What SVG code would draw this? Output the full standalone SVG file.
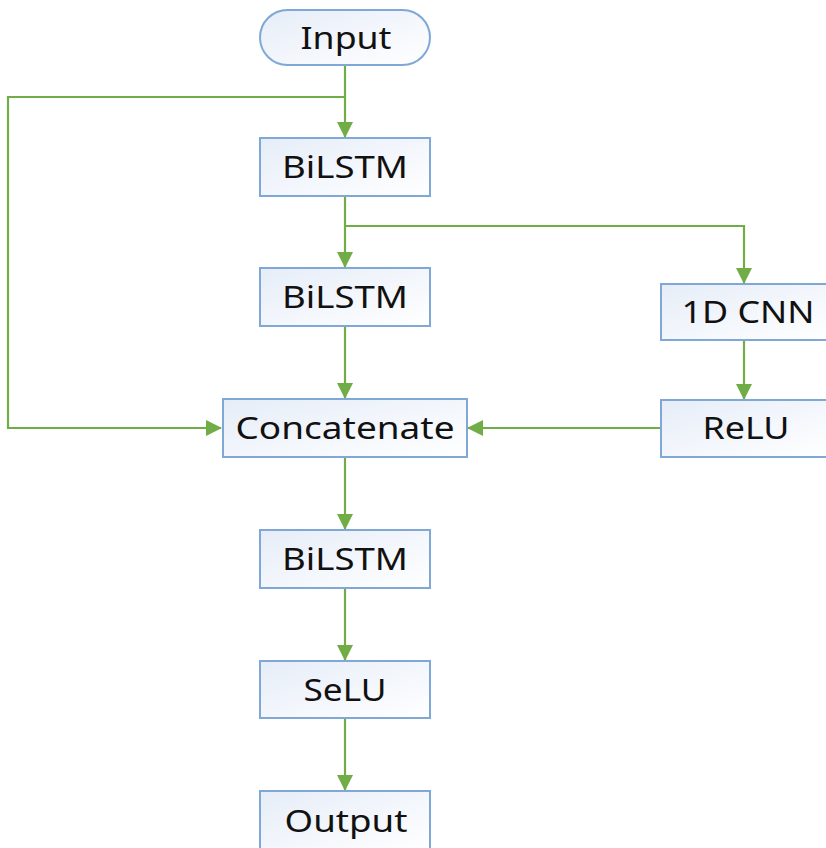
<svg xmlns="http://www.w3.org/2000/svg" width="826" height="848" viewBox="0 0 826 848">
<defs>
<linearGradient id="g" x1="0" y1="0" x2="1" y2="1">
<stop offset="0" stop-color="#e6edf8"/>
<stop offset="1" stop-color="#ffffff"/>
</linearGradient>
<marker id="ah" markerUnits="userSpaceOnUse" markerWidth="16" markerHeight="16" viewBox="0 0 16 16" refX="15" refY="8" orient="auto">
<path d="M0,0 L16,8 L0,16 Z" fill="#70ad47"/>
</marker>
<style>
.box{fill:url(#g);stroke:#7fa8d6;stroke-width:2}
.t{font-family:"Noto Sans","Open Sans","Liberation Sans",sans-serif;font-size:31px;fill:#111;text-anchor:middle;dominant-baseline:central}
.c{fill:none;stroke:#70ad47;stroke-width:2.2}
</style>
</defs>
<rect width="826" height="848" fill="#ffffff"/>
<g id="connectors">
<path class="c" d="M345,65 V137" marker-end="url(#ah)"/>
<path class="c" d="M345,97 H8 V428 H221" marker-end="url(#ah)"/>
<path class="c" d="M345,197 V267" marker-end="url(#ah)"/>
<path class="c" d="M345,226 H744 V283" marker-end="url(#ah)"/>
<path class="c" d="M345,327 V398" marker-end="url(#ah)"/>
<path class="c" d="M744,341 V399" marker-end="url(#ah)"/>
<path class="c" d="M660,428 H468" marker-end="url(#ah)"/>
<path class="c" d="M345,458 V529" marker-end="url(#ah)"/>
<path class="c" d="M345,589 V660" marker-end="url(#ah)"/>
<path class="c" d="M345,719 V790" marker-end="url(#ah)"/>
</g>
<g id="input">
<rect class="box" x="260" y="10" width="170" height="55" rx="27.5"/>
<text class="t" x="346" y="37" textLength="91" lengthAdjust="spacingAndGlyphs">Input</text>
</g>
<g id="bilstm1">
<rect class="box" x="260" y="138" width="170" height="58"/>
<text class="t" x="345" y="166" textLength="126" lengthAdjust="spacingAndGlyphs">BiLSTM</text>
</g>
<g id="bilstm2">
<rect class="box" x="260" y="268" width="170" height="58"/>
<text class="t" x="345" y="296" textLength="126" lengthAdjust="spacingAndGlyphs">BiLSTM</text>
</g>
<g id="cnn">
<rect class="box" x="661" y="284" width="168" height="56"/>
<text class="t" x="748" y="311" textLength="133" lengthAdjust="spacingAndGlyphs">1D CNN</text>
</g>
<g id="relu">
<rect class="box" x="661" y="400" width="168" height="57"/>
<text class="t" x="746" y="427" textLength="87" lengthAdjust="spacingAndGlyphs">ReLU</text>
</g>
<g id="concatenate">
<rect class="box" x="223" y="399" width="244" height="58"/>
<text class="t" x="345" y="427" textLength="219" lengthAdjust="spacingAndGlyphs">Concatenate</text>
</g>
<g id="bilstm3">
<rect class="box" x="260" y="530" width="170" height="58"/>
<text class="t" x="345" y="558" textLength="126" lengthAdjust="spacingAndGlyphs">BiLSTM</text>
</g>
<g id="selu">
<rect class="box" x="260" y="661" width="170" height="57"/>
<text class="t" x="345" y="689" textLength="83" lengthAdjust="spacingAndGlyphs">SeLU</text>
</g>
<g id="output">
<rect class="box" x="260" y="791" width="170" height="60"/>
<text class="t" x="346" y="820" textLength="123" lengthAdjust="spacingAndGlyphs">Output</text>
</g>
</svg>
